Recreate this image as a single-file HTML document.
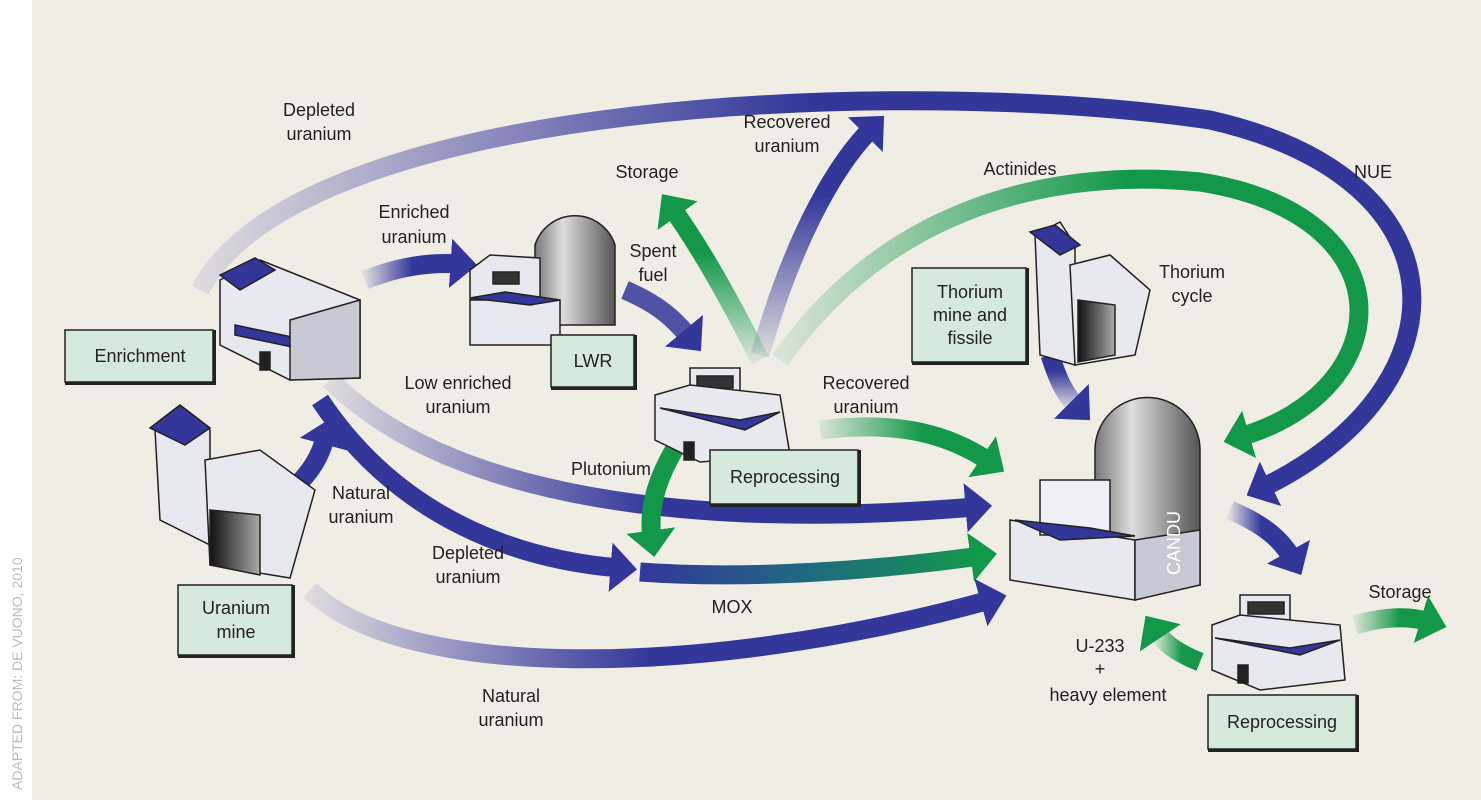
<!DOCTYPE html>
<html><head><meta charset="utf-8"><style>
html,body{margin:0;padding:0;background:#fff}
svg{display:block}
text{font-family:"Liberation Sans",Arial,sans-serif;font-size:18px;fill:#222}
.lbl{text-anchor:middle}
</style></head><body>
<svg width="1481" height="803" viewBox="0 0 1481 803" xmlns="http://www.w3.org/2000/svg">
<defs>
<marker id="mb" markerUnits="strokeWidth" markerWidth="2.6" markerHeight="2.6" refX="0.5" refY="1.3" orient="auto"><path d="M0,0 L1.4,1.3 L0,2.6 Z" fill="#33379a"/></marker>
<marker id="mg" markerUnits="strokeWidth" markerWidth="2.6" markerHeight="2.6" refX="0.5" refY="1.3" orient="auto"><path d="M0,0 L1.4,1.3 L0,2.6 Z" fill="#13984a"/></marker>
<linearGradient id="gbL" x1="0" y1="0" x2="1" y2="0"><stop offset="0" stop-color="#33379a" stop-opacity="0.1"/><stop offset="0.5" stop-color="#33379a"/></linearGradient>
<linearGradient id="gbV" x1="0" y1="1" x2="0" y2="0"><stop offset="0" stop-color="#33379a" stop-opacity="0.1"/><stop offset="0.7" stop-color="#33379a"/></linearGradient>
<linearGradient id="ggV" x1="0" y1="1" x2="0" y2="0"><stop offset="0" stop-color="#13984a" stop-opacity="0.1"/><stop offset="0.7" stop-color="#13984a"/></linearGradient>
<linearGradient id="ggL" x1="0" y1="0" x2="1" y2="0"><stop offset="0" stop-color="#13984a" stop-opacity="0.1"/><stop offset="0.6" stop-color="#13984a"/></linearGradient>
<linearGradient id="mox" x1="0" y1="0" x2="1" y2="0"><stop offset="0" stop-color="#33379a"/><stop offset="0.5" stop-color="#1f6a80"/><stop offset="1" stop-color="#13984a"/></linearGradient>
<linearGradient id="cyl" x1="0" y1="0" x2="1" y2="0"><stop offset="0" stop-color="#777"/><stop offset="0.35" stop-color="#ddd"/><stop offset="1" stop-color="#555"/></linearGradient>
<linearGradient id="door" x1="0" y1="0" x2="1" y2="0"><stop offset="0" stop-color="#111"/><stop offset="1" stop-color="#aaa"/></linearGradient>
</defs>
<rect x="0" y="0" width="1481" height="803" fill="#fff"/>
<rect x="32" y="0" width="1449" height="800" fill="#f0ede5"/>
<text transform="translate(22,790) rotate(-90)" style="font-size:14px;fill:#bbb">ADAPTED FROM: DE VUONO, 2010</text>

<g fill="none" stroke-width="19">
<path d="M200,290 C300,100 900,75 1210,120 C1475,180 1465,390 1262,488" stroke="url(#gbL)" marker-end="url(#mb)"/>
<path d="M780,360 C900,190 1080,170 1200,182 C1410,215 1400,390 1240,437" stroke="url(#ggL)" marker-end="url(#mg)"/>
<path d="M760,355 C790,250 830,170 872,128" stroke="url(#gbV)" marker-end="url(#mb)"/>
<path d="M760,360 C725,290 695,240 672,208" stroke="url(#ggV)" marker-end="url(#mg)"/>
<path d="M625,290 C660,305 675,320 690,338" stroke="#33379a" stroke-opacity="0.85" marker-end="url(#mb)"/>
<path d="M365,280 C400,266 430,262 460,264" stroke="url(#gbL)" marker-end="url(#mb)"/>
<path d="M330,380 C450,500 700,530 975,507" stroke="url(#gbL)" marker-end="url(#mb)"/>
<path d="M320,400 C400,520 520,560 620,568" stroke="#33379a" marker-end="url(#mb)"/>
<path d="M640,572 C750,580 880,570 980,556" stroke="url(#mox)" marker-end="url(#mg)"/>
<path d="M680,440 C655,480 648,510 652,540" stroke="#13984a" marker-end="url(#mg)"/>
<path d="M820,430 C900,420 950,435 990,462" stroke="url(#ggL)" marker-end="url(#mg)"/>
<path d="M310,590 C400,680 700,680 990,600" stroke="url(#gbL)" marker-end="url(#mb)"/>
<path d="M300,482 C316,465 322,450 326,435" stroke="#33379a" marker-end="url(#mb)"/>
<path d="M1050,355 C1058,380 1065,395 1078,408" stroke="url(#gbV)" marker-end="url(#mb)"/>
<path d="M1230,510 C1265,525 1282,540 1293,560" stroke="url(#gbL)" marker-end="url(#mb)"/>
<path d="M1200,662 C1175,652 1163,642 1155,630" stroke="url(#ggL)" marker-end="url(#mg)"/>
<path d="M1355,625 C1385,616 1410,616 1430,622" stroke="url(#ggL)" marker-end="url(#mg)"/>
</g>

<g stroke="#222" stroke-width="1.5">
<polygon points="220,280 260,260 360,300 360,378 290,380 220,345" fill="#e8e8ef"/>
<polygon points="220,275 255,258 275,270 240,290" fill="#33379a"/>
<polygon points="235,325 330,345 330,355 235,335" fill="#33379a"/>
<polygon points="290,380 360,378 360,300 290,320" fill="#c9c9d4"/>
<rect x="260" y="352" width="10" height="18" fill="#222"/>
</g>
<g stroke="#222" stroke-width="1.5">
<polygon points="155,430 185,410 210,430 210,545 160,520" fill="#e8e8ef"/>
<polygon points="150,428 180,405 210,428 185,445" fill="#33379a"/>
<polygon points="205,460 260,450 315,490 290,578 210,565" fill="#e8e8ef"/>
<polygon points="210,510 260,515 260,575 210,565" fill="url(#door)"/>
</g>
<g stroke="#222" stroke-width="1.5">
<path d="M535,245 A42,42 0 0 1 615,245 L615,325 L535,325 Z" fill="url(#cyl)"/>
<polygon points="470,270 490,255 540,258 540,300 470,300" fill="#e8e8ef"/>
<rect x="470" y="300" width="90" height="45" fill="#e8e8ef"/>
<polygon points="470,298 505,292 560,300 530,305" fill="#33379a"/>
<rect x="493" y="272" width="26" height="12" fill="#333"/>
</g>
<g stroke="#222" stroke-width="1.5">
<rect x="690" y="368" width="50" height="30" fill="#e8e8ef"/>
<rect x="697" y="376" width="36" height="12" fill="#333"/>
<polygon points="655,395 690,385 780,395 790,455 700,462 655,440" fill="#e8e8ef"/>
<polygon points="660,408 740,420 780,412 745,430" fill="#33379a"/>
<rect x="684" y="442" width="10" height="18" fill="#222"/>
</g>
<g stroke="#222" stroke-width="1.5">
<polygon points="1035,235 1060,222 1075,245 1075,365 1040,355" fill="#e8e8ef"/>
<polygon points="1030,232 1055,225 1080,245 1060,255" fill="#33379a"/>
<polygon points="1070,265 1110,255 1150,290 1135,355 1075,365" fill="#e8e8ef"/>
<polygon points="1078,300 1115,305 1115,355 1078,362" fill="url(#door)"/>
</g>
<g stroke="#222" stroke-width="1.5">
<path d="M1095,450 A52,52 0 0 1 1200,450 L1200,585 L1095,585 Z" fill="url(#cyl)"/>
<polygon points="1010,520 1135,540 1135,600 1010,580" fill="#e8e8ef"/>
<polygon points="1135,540 1200,530 1200,585 1135,600" fill="#c9c9d4"/>
<rect x="1040" y="480" width="70" height="55" fill="#efeff5"/>
<polygon points="1015,520 1090,528 1135,536 1060,540" fill="#33379a"/>
</g>
<text transform="translate(1180,575) rotate(-90)" style="fill:#fff">CANDU</text>
<g stroke="#222" stroke-width="1.5">
<rect x="1240" y="595" width="50" height="28" fill="#e8e8ef"/>
<rect x="1248" y="602" width="36" height="12" fill="#333"/>
<polygon points="1212,625 1240,615 1340,625 1345,680 1260,690 1212,670" fill="#e8e8ef"/>
<polygon points="1215,638 1290,648 1340,640 1300,655" fill="#33379a"/>
<rect x="1238" y="665" width="10" height="18" fill="#222"/>
</g>

<g stroke="#222" stroke-width="1.5" fill="#d6eadb">
<rect x="65" y="330" width="148" height="52"/>
<rect x="178" y="585" width="114" height="70"/>
<rect x="551" y="335" width="83" height="52"/>
<rect x="710" y="450" width="148" height="54"/>
<rect x="912" y="268" width="114" height="94"/>
<rect x="1208" y="695" width="148" height="54"/>
</g>
<g fill="#222">
<rect x="213" y="330" width="3" height="55"/><rect x="65" y="382" width="151" height="3"/>
<rect x="292" y="585" width="3" height="73"/><rect x="178" y="655" width="117" height="3"/>
<rect x="634" y="335" width="3" height="55"/><rect x="551" y="387" width="86" height="3"/>
<rect x="858" y="450" width="3" height="57"/><rect x="710" y="504" width="151" height="3"/>
<rect x="1026" y="268" width="3" height="97"/><rect x="912" y="362" width="117" height="3"/>
<rect x="1356" y="695" width="3" height="57"/><rect x="1208" y="749" width="151" height="3"/>
</g>
<text x="140" y="362" class="lbl">Enrichment</text>
<text x="236" y="614" class="lbl">Uranium</text><text x="236" y="638" class="lbl">mine</text>
<text x="593" y="367" class="lbl">LWR</text>
<text x="785" y="483" class="lbl">Reprocessing</text>
<text x="970" y="298" class="lbl">Thorium</text><text x="970" y="321" class="lbl">mine and</text><text x="970" y="344" class="lbl">fissile</text>
<text x="1282" y="728" class="lbl">Reprocessing</text>

<g>
<text x="319" y="116" class="lbl">Depleted</text><text x="319" y="140" class="lbl">uranium</text>
<text x="414" y="218" class="lbl">Enriched</text><text x="414" y="243" class="lbl">uranium</text>
<text x="647" y="178" class="lbl">Storage</text>
<text x="653" y="257" class="lbl">Spent</text><text x="653" y="281" class="lbl">fuel</text>
<text x="787" y="128" class="lbl">Recovered</text><text x="787" y="152" class="lbl">uranium</text>
<text x="1020" y="175" class="lbl">Actinides</text>
<text x="1373" y="178" class="lbl">NUE</text>
<text x="1192" y="278" class="lbl">Thorium</text><text x="1192" y="302" class="lbl">cycle</text>
<text x="458" y="389" class="lbl">Low enriched</text><text x="458" y="413" class="lbl">uranium</text>
<text x="866" y="389" class="lbl">Recovered</text><text x="866" y="413" class="lbl">uranium</text>
<text x="611" y="475" class="lbl">Plutonium</text>
<text x="361" y="499" class="lbl">Natural</text><text x="361" y="523" class="lbl">uranium</text>
<text x="468" y="559" class="lbl">Depleted</text><text x="468" y="583" class="lbl">uranium</text>
<text x="732" y="613" class="lbl">MOX</text>
<text x="511" y="702" class="lbl">Natural</text><text x="511" y="726" class="lbl">uranium</text>
<text x="1100" y="652" class="lbl">U-233</text><text x="1100" y="675" class="lbl">+</text><text x="1108" y="701" class="lbl">heavy element</text>
<text x="1400" y="598" class="lbl">Storage</text>
</g>
</svg>
</body></html>
